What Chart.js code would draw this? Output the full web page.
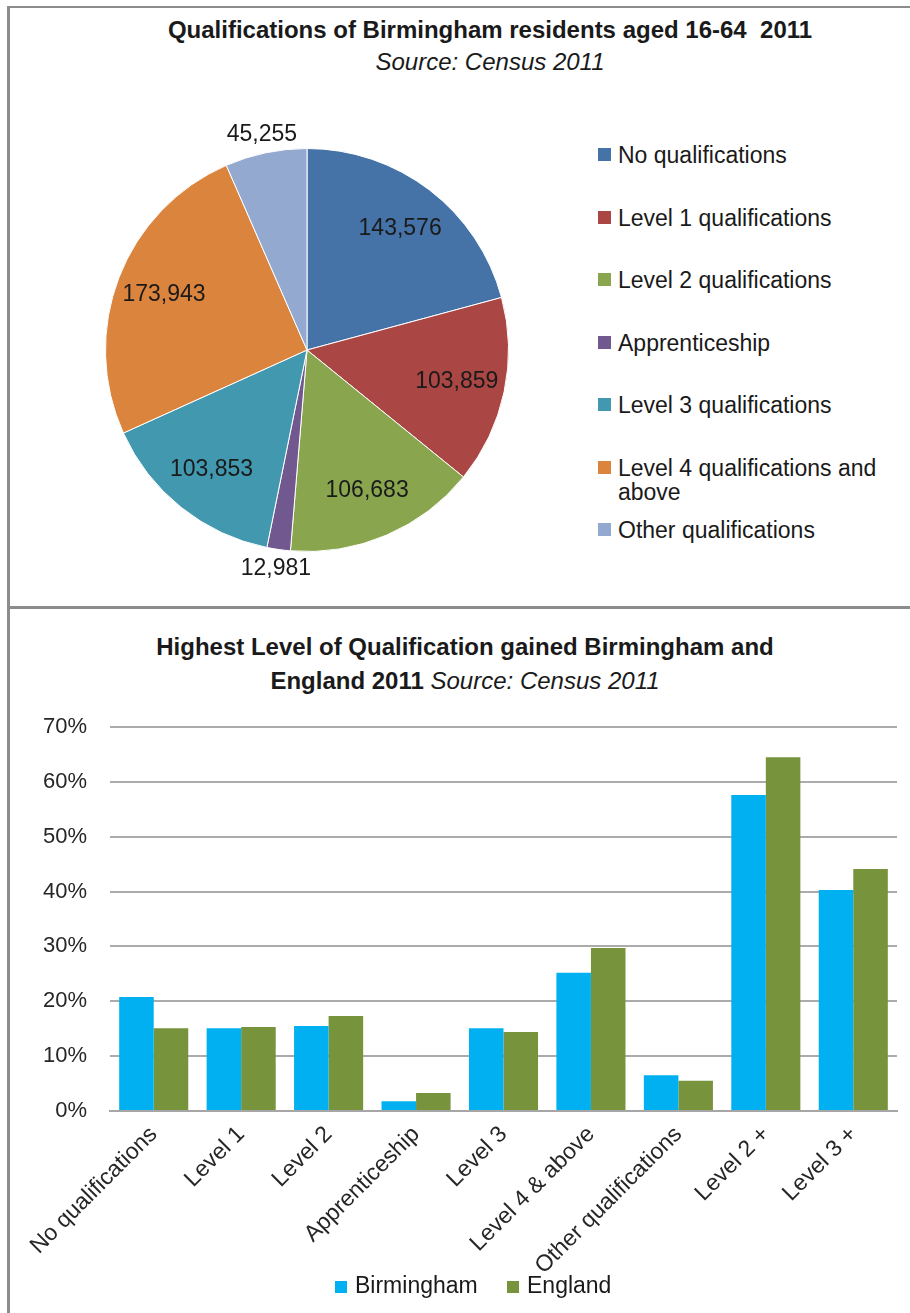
<!DOCTYPE html>
<html lang="en">
<head>
<meta charset="utf-8">
<title>Qualifications of Birmingham residents 2011</title>
<script src="https://cdn.jsdelivr.net/npm/chart.js@4/dist/chart.umd.min.js"></script>
<style>
    html, body { margin: 0; padding: 0; background: #fff; }
    body {
        width: 910px; height: 1313px; position: relative; overflow: hidden;
        font-family: 'Liberation Sans', Arial, sans-serif; color: #1a1a1a;
    }
    .frame { position: absolute; left: 7px; width: 920px; border-left: 3px solid #8c8c8c; box-sizing: border-box; }
    .frame.top { top: 6px; height: 601px; border-top: 2px solid #8c8c8c; }
    .frame.bottom { top: 606px; height: 720px; border-top: 3px solid #8c8c8c; }
    .title { position: absolute; left: 0; width: 980px; text-align: center; white-space: nowrap; font-size: 24px; line-height: 30px; }
    .title b { font-weight: bold; }
    .title i { font-weight: normal; }
    canvas { position: absolute; }
    #pieLegend .item { position: absolute; left: 598px; font-size: 23px; line-height: 24px; }
    #pieLegend .sq { position: absolute; left: 0; top: 5px; width: 13px; height: 13px; }
    #pieLegend .txt { position: absolute; left: 20px; top: 0; width: 285px; }
    #barLegend .item { position: absolute; top: 1272px; font-size: 23px; line-height: 26px; white-space: nowrap; }
    #barLegend .sq { display: inline-block; width: 12px; height: 12px; margin-right: 8px; vertical-align: 0px; }
</style>
</head>
<body>
<div class="frame top"></div>
<div class="frame bottom"></div>

<div class="title" style="top:15px"><b>Qualifications of Birmingham residents aged 16-64&nbsp; 2011</b></div>
<div class="title" style="top:47px"><i>Source: Census 2011</i></div>
<canvas id="pieChart" width="500" height="500" style="left:57px; top:100px"></canvas>
<div id="pieLegend"></div>

<div class="title" style="top:632px; left:-25px"><b>Highest Level of Qualification gained Birmingham and</b></div>
<div class="title" style="top:666px; left:-25px"><b>England 2011</b> <i>Source: Census 2011</i></div>
<canvas id="barChart" width="910" height="613" style="left:0; top:700px"></canvas>
<div id="barLegend"></div>

<script>
/* Dados - gráfico de pizza (residentes 16-64) */
const pieLabels = ['No qualifications', 'Level 1 qualifications', 'Level 2 qualifications', 'Apprenticeship',
                   'Level 3 qualifications', 'Level 4 qualifications and above', 'Other qualifications'];
const pieValues = [143576, 103859, 106683, 12981, 103853, 173943, 45255];
const pieColors = ['#4572A7', '#AA4643', '#89A54E', '#71588F', '#4198AF', '#DB843D', '#93A9CF'];

/* Dados - gráfico de barras (%) */
const barLabels = ['No qualifications', 'Level 1', 'Level 2', 'Apprenticeship', 'Level 3',
                   'Level 4 & above', 'Other qualifications', 'Level 2 +', 'Level 3 +'];
const seriesNames = ['Birmingham', 'England'];
const birminghamPct = [20.8, 15.1, 15.5, 1.8, 15.1, 25.2, 6.5, 57.6, 40.3];
const englandPct    = [15.1, 15.3, 17.3, 3.3, 14.4, 29.7, 5.5, 64.5, 44.1];
const seriesColors = ['#00B0F0', '#77933C'];
const yTicks = [0, 10, 20, 30, 40, 50, 60, 70];

const FONT = "'Liberation Sans', Arial, sans-serif";
Chart.defaults.font.family = FONT;
Chart.defaults.color = '#262626';
Chart.defaults.animation = false;

/* Rótulos de valor na pizza: dentro das fatias grandes, fora das pequenas */
const pieValueLabels = {
    id: 'pieValueLabels',
    afterDatasetsDraw(chart) {
        const { ctx } = chart;
        const data = chart.data.datasets[0].data;
        const total = data.reduce((s, v) => s + v, 0);
        ctx.save();
        ctx.font = '23px ' + FONT;
        ctx.fillStyle = '#1a1a1a';
        ctx.textAlign = 'center';
        ctx.textBaseline = 'middle';
        chart.getDatasetMeta(0).data.forEach((arc, i) => {
            const { x, y, startAngle, endAngle, outerRadius } = arc.getProps(['x', 'y', 'startAngle', 'endAngle', 'outerRadius'], true);
            const mid = (startAngle + endAngle) / 2;
            const dist = data[i] / total < 0.08 ? outerRadius + 19 : outerRadius * 0.76;
            ctx.fillText(data[i].toLocaleString('en-GB'), x + Math.cos(mid) * dist, y + Math.sin(mid) * dist);
        });
        ctx.restore();
    }
};

new Chart(document.getElementById('pieChart'), {
    type: 'pie',
    data: {
        labels: pieLabels,
        datasets: [{ data: pieValues, backgroundColor: pieColors, borderColor: '#ffffff', borderWidth: 1 }]
    },
    options: {
        responsive: false,
        layout: { padding: 48 },
        plugins: { legend: { display: false }, tooltip: { enabled: false } }
    },
    plugins: [pieValueLabels]
});

/* Legenda da pizza (HTML, para permitir quebra de linha) */
document.getElementById('pieLegend').innerHTML = pieLabels.map((lab, i) => `
    <div class="item" style="top:${143 + i * 62.5}px">
        <span class="sq" style="background:${pieColors[i]}"></span>
        <span class="txt">${lab}</span>
    </div>`).join('');

new Chart(document.getElementById('barChart'), {
    type: 'bar',
    data: {
        labels: barLabels,
        datasets: [
            { label: seriesNames[0], data: birminghamPct, backgroundColor: seriesColors[0] },
            { label: seriesNames[1], data: englandPct, backgroundColor: seriesColors[1] }
        ]
    },
    options: {
        responsive: false,
        layout: { padding: { top: 27, right: 13, left: 0, bottom: 0 } },
        datasets: { bar: { categoryPercentage: 0.79, barPercentage: 1.0 } },
        plugins: { legend: { display: false }, tooltip: { enabled: false } },
        scales: {
            x: {
                grid: { display: false, drawTicks: false },
                border: { display: true, color: '#A6A6A6', width: 2 },
                ticks: { font: { size: 23 }, color: '#262626', maxRotation: 45, minRotation: 45, padding: 10, autoSkip: false },
                afterFit: (scale) => { scale.height = 202; }
            },
            y: {
                min: 0, max: 70,
                afterBuildTicks: (scale) => { scale.ticks = yTicks.map(v => ({ value: v })); },
                grid: { color: '#ABABAB', lineWidth: 2, drawTicks: false },
                border: { display: false },
                ticks: { font: { size: 22 }, color: '#262626', padding: 23, callback: (v) => v + '%' },
                afterFit: (scale) => {
                    scale.width = 110;
                    // o padding dos ticks inflava o topo da área do gráfico
                    scale.paddingTop = 0;
                    scale.paddingBottom = 0;
                }
            }
        }
    }
});

/* Legenda das barras */
const legendX = [335, 507];
document.getElementById('barLegend').innerHTML = seriesNames.map((nome, i) => `
    <div class="item" style="left:${legendX[i]}px">
        <span class="sq" style="background:${seriesColors[i]}"></span>${nome}
    </div>`).join('');
</script>
</body>
</html>
